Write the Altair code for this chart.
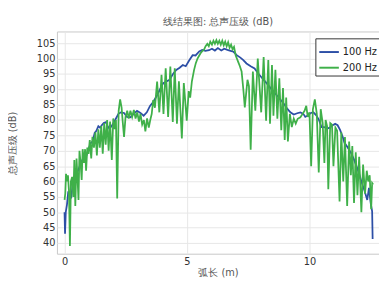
import altair as alt
import pandas as pd

# 100 Hz series (arc length m, total SPL dB)
x100 = [0.00, 0.02, 0.05, 0.10, 0.15, 0.20, 0.27, 0.33, 0.40, 0.47, 0.55, 0.62, 0.70, 0.78, 0.85,
        0.92, 1.00, 1.07, 1.15, 1.23, 1.30, 1.38, 1.45, 1.52, 1.60, 1.69, 1.76, 1.83, 1.92, 2.00,
        2.10, 2.20, 2.30, 2.43, 2.55, 2.69, 2.82, 2.96, 3.10, 3.23, 3.36, 3.49, 3.62, 3.76, 3.90,
        4.03, 4.16, 4.29, 4.43, 4.56, 4.70, 4.83, 4.95, 5.10, 5.23, 5.35, 5.50, 5.62, 5.75, 5.90,
        6.02, 6.14, 6.26, 6.40, 6.52, 6.65, 6.78, 6.90, 7.03, 7.18, 7.30, 7.43, 7.60, 7.76, 7.90,
        8.03, 8.16, 8.30, 8.43, 8.56, 8.69, 8.83, 8.96, 9.10, 9.22, 9.36, 9.50, 9.63, 9.75, 9.83,
        9.95, 10.06, 10.16, 10.28, 10.40, 10.49, 10.60, 10.72, 10.83, 10.95, 11.05, 11.15, 11.25,
        11.36, 11.43, 11.55, 11.69, 11.80, 11.92, 12.03, 12.14, 12.25, 12.36, 12.43, 12.50, 12.56, 12.58]
y100 = [50.0, 43.0, 50.0, 52.5, 56.5, 56.5, 54.5, 59.0, 61.0, 62.0, 63.5, 65.0, 66.5, 68.0, 67.5,
        69.0, 71.0, 72.5, 73.0, 75.8, 76.5, 78.0, 77.5, 78.3, 79.0, 79.3, 78.0, 77.2, 78.0, 79.0,
        80.5, 82.0, 82.5, 82.3, 81.0, 80.9, 82.0, 83.0, 82.3, 81.4, 82.5, 84.6, 85.8, 87.8, 90.0,
        92.0, 92.5, 93.1, 95.0, 96.3, 97.0, 97.9, 97.5, 99.5, 101.1, 101.0, 102.3, 102.8, 102.5, 102.7,
        103.2, 102.6, 103.4, 102.6, 103.2, 102.8, 102.5, 102.2, 101.1, 100.3, 99.5, 98.4, 97.5, 96.8, 95.2,
        94.0, 92.8, 91.5, 90.2, 89.0, 87.8, 86.5, 85.2, 83.6, 82.5, 81.8, 82.2, 82.5, 82.0, 81.0,
        81.5, 82.3, 82.5, 81.5, 79.8, 77.7, 77.7, 77.2, 77.5, 78.3, 78.8, 78.3, 76.8,
        74.5, 72.6, 71.2, 69.4, 67.5, 65.0, 62.5, 59.5, 57.0, 54.0, 57.9, 53.0, 50.3, 41.3]

# 200 Hz series
x200 = [0.00, 0.03, 0.06, 0.10, 0.14, 0.18, 0.22, 0.26, 0.31, 0.36, 0.40, 0.44, 0.49, 0.53, 0.57,
        0.61, 0.66, 0.70, 0.74, 0.79, 0.84, 0.88, 0.93, 0.98, 1.03, 1.09, 1.14, 1.20, 1.26, 1.32,
        1.38, 1.44, 1.50, 1.56, 1.62, 1.68, 1.74, 1.80, 1.86, 1.93, 1.99, 2.05, 2.10, 2.15, 2.21,
        2.27, 2.33, 2.38, 2.43, 2.49, 2.56, 2.62, 2.69, 2.76, 2.83, 2.90, 2.97, 3.04, 3.10, 3.17,
        3.24, 3.30, 3.37, 3.44, 3.50, 3.56, 3.62, 3.69, 3.78, 3.87, 3.96, 4.04, 4.13, 4.23, 4.32,
        4.42, 4.50, 4.59, 4.67, 4.79, 4.87, 4.99, 5.07, 5.13, 5.20, 5.29, 5.36, 5.43, 5.50, 5.56,
        5.63, 5.69, 5.76, 5.83, 5.89, 5.95, 6.02, 6.08, 6.14, 6.20, 6.26, 6.32, 6.38, 6.44, 6.50,
        6.56, 6.62, 6.68, 6.74, 6.80, 6.86, 6.92, 6.99, 7.09, 7.16, 7.23, 7.30, 7.36, 7.47, 7.53,
        7.60, 7.69, 7.79, 7.89, 8.03, 8.13, 8.23, 8.32, 8.39, 8.47, 8.53, 8.61, 8.69, 8.77, 8.85,
        8.92, 8.99, 9.05, 9.12, 9.20, 9.28, 9.36, 9.44, 9.52, 9.63, 9.72, 9.80, 9.87, 9.93, 10.00,
        10.07, 10.14, 10.22, 10.30, 10.38, 10.46, 10.54, 10.61, 10.66, 10.72, 10.77, 10.85, 10.92, 10.98,
        11.06, 11.13, 11.23, 11.30, 11.38, 11.45, 11.54, 11.62, 11.69, 11.75, 11.82, 11.89, 11.96, 12.03,
        12.12, 12.19, 12.27, 12.34, 12.40, 12.46, 12.52, 12.56, 12.60]
y200 = [54.0, 56.0, 62.5, 60.0, 62.0, 57.0, 39.0, 60.0, 61.5, 55.0, 67.0, 52.0, 67.5, 61.0, 54.0,
        70.0, 65.5, 60.5, 70.5, 66.0, 70.5, 63.5, 71.0, 69.0, 73.5, 67.5, 74.5, 71.0, 76.0, 68.5,
        77.0, 71.0, 78.0, 69.0, 79.0, 72.0, 80.0, 70.0, 79.5, 67.0, 80.5, 77.0, 80.0, 54.5, 83.0,
        86.7, 84.0, 79.0, 74.5, 81.0, 83.0, 80.5, 83.0, 81.0, 83.3, 80.5, 82.5, 79.5, 82.0, 78.5,
        80.0, 76.3, 80.5, 77.5, 80.0, 82.0, 86.5, 84.0, 92.5, 82.5, 94.7, 82.0, 96.8, 81.0, 97.4,
        79.4, 96.8, 78.8, 92.6, 74.0, 92.0, 79.8, 89.4, 87.3, 92.6, 96.3, 98.5, 100.0, 101.0, 101.8,
        102.5, 102.8, 104.0, 104.8, 104.0, 105.5, 104.5, 105.8, 104.8, 106.0, 104.8, 105.8, 104.5, 105.8, 104.3,
        105.5, 104.0, 105.3, 103.5, 104.5, 103.0, 103.8, 101.0, 98.9, 97.5, 95.8, 90.0, 84.1, 93.1, 91.0,
        70.3, 95.8, 83.0, 100.0, 82.5, 100.5, 79.8, 99.5, 78.8, 97.9, 81.4, 96.3, 80.4, 93.6, 76.7,
        90.4, 73.5, 87.3, 73.0, 82.0, 77.7, 80.4, 78.8, 80.4, 80.9, 82.0, 83.0, 84.6, 81.0, 82.5,
        65.0, 83.5, 86.7, 82.0, 62.9, 83.5, 79.0, 66.0, 80.0, 78.0, 57.5, 79.0, 78.5, 65.0,
        77.5, 76.5, 53.5, 76.0, 60.0, 74.5, 52.0, 73.0, 62.0, 71.5, 53.0, 69.5, 55.5, 68.0,
        50.0, 65.5, 56.0, 63.5, 60.0, 62.0, 51.0, 59.5, 59.0]

series_names = ["100 Hz", "200 Hz"]
series_colors = ["#2d4fa6", "#3fb049"]
x_ticks = [0, 5, 10]
y_ticks = [40, 45, 50, 55, 60, 65, 70, 75, 80, 85, 90, 95, 100, 105]

rows = []
for i, (xs, ys) in enumerate([(x100, y100), (x200, y200)]):
    for j, (a, b) in enumerate(zip(xs, ys)):
        rows.append({"x": a, "y": b, "series": series_names[i], "idx": j})
df = pd.DataFrame(rows)

font = "DejaVu Sans"

chart = alt.Chart(df).mark_line(strokeWidth=1.8, clip=True).encode(
    x=alt.X("x:Q",
            scale=alt.Scale(domain=[-0.31, 12.84], nice=False, zero=False),
            axis=alt.Axis(values=x_ticks, title="弧长 (m)", format="d",
                          labelPadding=3, titleY=14, titleBaseline="top")),
    y=alt.Y("y:Q",
            scale=alt.Scale(domain=[36.5, 108.8], nice=False, zero=False),
            axis=alt.Axis(values=y_ticks, title="总声压级 (dB)", labelPadding=2,
                          titleX=-40, titleY=114, titleBaseline="bottom", titleAlign="center")),
    color=alt.Color("series:N",
                    scale=alt.Scale(domain=series_names, range=series_colors),
                    legend=alt.Legend(title=None, orient="none", legendX=264, legendY=7,
                                      direction="vertical", fillColor="white",
                                      strokeColor="#333333", padding=3,
                                      symbolType="stroke", symbolSize=400,
                                      symbolStrokeWidth=2, labelFontSize=10,
                                      labelFont=font, labelColor="#222222",
                                      labelOffset=3, rowPadding=0)),
    order="idx:Q",
).properties(
    width=329,
    height=227,
    autosize=alt.AutoSizeParams(type="none"),
    padding={"left": 50, "top": 21, "right": 0, "bottom": 30},
    title=alt.TitleParams("线结果图: 总声压级 (dB)", fontSize=10, font=font,
                          fontWeight="normal", color="#555555", offset=5, anchor="middle"),
).configure_view(
    stroke="#c8c8c8", strokeWidth=1
).configure_axis(
    grid=True, gridColor="#e6e6e6", gridWidth=1, domain=False, ticks=False,
    labelFont=font, labelFontSize=10, labelColor="#333333",
    titleFont=font, titleFontSize=10, titleColor="#555555", titleFontWeight="normal"
)

chart.save("out.html", embed_options={"renderer": "svg", "actions": False})
